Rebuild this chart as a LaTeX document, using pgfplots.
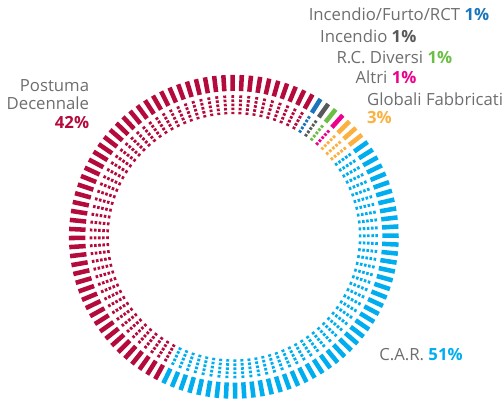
\documentclass[border=0pt]{standalone}
\usepackage{pgfplots}
\pgfplotsset{compat=1.18}
\usepackage{fontspec}
\setmainfont{Open Sans}
\definecolor{postred}{HTML}{B40A3C}
\definecolor{carblue}{HTML}{00AEEF}
\definecolor{rctblue}{HTML}{1B75BC}
\definecolor{incgray}{HTML}{58595B}
\definecolor{rcgreen}{HTML}{6CBE45}
\definecolor{altrimag}{HTML}{EC008C}
\definecolor{globorange}{HTML}{FBB040}
\definecolor{txtgray}{HTML}{6D6E71}
% spokes: first index, last index, colour (one spoke every 360/112 degrees, clockwise from 31.7 deg)
% Incendio/Furto/RCT 1 spoke, Incendio 1, R.C. Diversi 1, Altri 1, Globali Fabbricati 3, C.A.R. 48, Postuma Decennale 57
\newcommand\spokes[3]{%
  \foreach \k in {#1,...,#2}{%
    \pgfmathsetmacro\th{58.3-3.2143*\k}%
    \pgfmathsetmacro\xa{167.5*cos(\th)}%
    \pgfmathsetmacro\ya{0.982*167.5*sin(\th)}%
    \pgfmathsetmacro\xb{150.8*cos(\th)}%
    \pgfmathsetmacro\yb{0.982*150.8*sin(\th)}%
    \pgfmathsetmacro\xc{146.4*cos(\th)}%
    \pgfmathsetmacro\yc{0.982*146.4*sin(\th)}%
    \pgfmathsetmacro\xd{126.8*cos(\th)}%
    \pgfmathsetmacro\yd{0.982*126.8*sin(\th)}%
    \edef\tmp{\noexpand\addplot[draw=#3, line width=4.6pt, line cap=butt, forget plot] coordinates {(\xa,\ya) (\xb,\yb)};
      \noexpand\addplot[draw=#3, line width=3.0pt, line cap=butt, dash pattern=on 2.6pt off 1.6pt, forget plot] coordinates {(\xc,\yc) (\xd,\yd)};}%
    \tmp
  }%
}
\begin{document}
\begin{tikzpicture}
\begin{axis}[hide axis, x=1pt, y=1pt, xmin=-237.5, xmax=265.5, ymin=-170.5, ymax=240.5, clip=false]
\path (axis cs:-237.5,-170.5) rectangle (axis cs:265.5,240.5);
\spokes{0}{0}{rctblue}
\spokes{1}{1}{incgray}
\spokes{2}{2}{rcgreen}
\spokes{3}{3}{altrimag}
\spokes{4}{6}{globorange}
\spokes{7}{54}{carblue}
\spokes{55}{111}{postred}
\begin{scope}[every node/.style={inner sep=0pt, text=txtgray, font=\fontsize{17}{19}\selectfont}]
\node[anchor=base east] at (axis cs:259.5,219.8) {Incendio/Furto/RCT \textbf{\textcolor{rctblue}{1\%}}};
\node[anchor=base west] at (axis cs:87.5,197.8) {Incendio \textbf{\textcolor{incgray}{1\%}}};
\node[anchor=base west] at (axis cs:104.2,176.2) {R.C. Diversi \textbf{\textcolor{rcgreen}{1\%}}};
\node[anchor=base west] at (axis cs:123.5,155.5) {Altri \textbf{\textcolor{altrimag}{1\%}}};
\node[anchor=base west] at (axis cs:135.2,133.8) {Globali Fabbricati};
\node[anchor=base west] at (axis cs:135.2,115.5) {\textbf{\textcolor{globorange}{3\%}}};
\node[anchor=base east] at (axis cs:-146.8,147.8) {Postuma};
\node[anchor=base east] at (axis cs:-146.8,128.8) {Decennale};
\node[anchor=base east] at (axis cs:-146.8,109.8) {\textbf{\textcolor{postred}{42\%}}};
\node[anchor=base west] at (axis cs:147.5,-125.5) {C.A.R. \textbf{\textcolor{carblue}{51\%}}};
\end{scope}
\end{axis}
\end{tikzpicture}
\end{document}
